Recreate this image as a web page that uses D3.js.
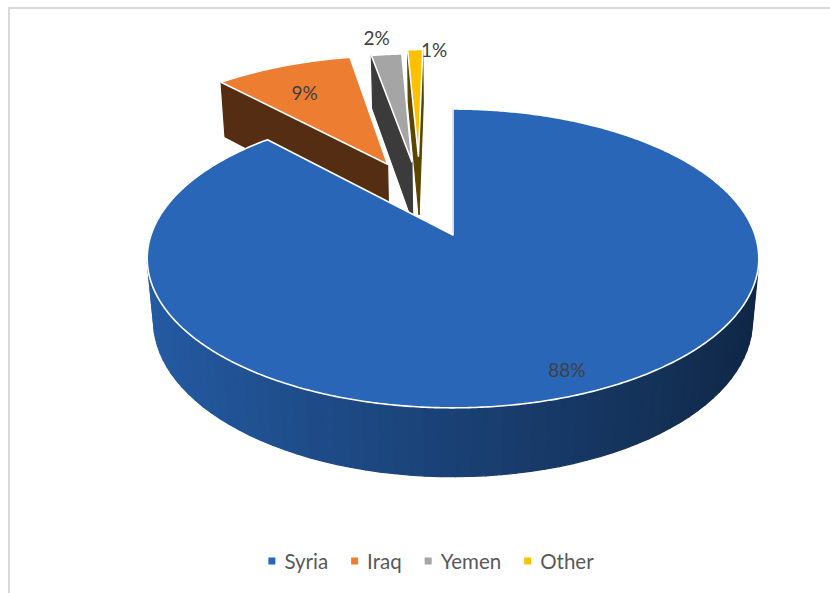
<!DOCTYPE html>
<html>
<head>
<meta charset="utf-8">
<script src="https://cdn.jsdelivr.net/npm/d3@7"></script>
<style>
  html, body { margin: 0; padding: 0; background: #fff; }
  svg { display: block; }
</style>
</head>
<body>
<svg id="chart" width="830" height="593"></svg>
<script>
// ---- data ----
const categories = ["Syria", "Iraq", "Yemen", "Other"];
const shares = [88, 9, 2, 1];
const shareLabels = ["88%", "9%", "2%", "1%"];

// ---- styling / layout ----
const palette = ["#2966b8", "#ed7d31", "#a5a5a5", "#ffc000"];
const explodeBy = [95, 79, 77, 90];            // pull-out distance of each slice (world units)
const labelReach = [0.87, 0.73, 1.18, 1.0];    // label distance from the slice tip, in radii
const labelShift = [[3, -1], [-4, 2], [-6, 0], [19, 0]];

const W = 830, H = 593;
const svg = d3.select("#chart");

// chart frame
svg.append("rect")
  .attr("x", 9).attr("y", 8)
  .attr("width", W).attr("height", H)
  .attr("fill", "#fff")
  .attr("stroke", "#d9d9d9")
  .attr("stroke-width", 2);

// ---- 3-D pie geometry ----
const R = 302;                 // pie radius
const thick = 72;              // pie height
const tilt = 28.85 * Math.PI / 180;
const sT = Math.sin(tilt), cT = Math.cos(tilt);
const focal = 1686;            // perspective distance
const originX = 453, originY = 235;

const color = d3.scaleOrdinal().domain(categories).range(palette);
const arcs = d3.pie().sort(null).value(d => d)(shares);

const slices = arcs.map((a, i) => {
  const mid = (a.startAngle + a.endAngle) / 2;
  return {
    i, name: categories[i],
    a0: a.startAngle, a1: a.endAngle, mid,
    ox: explodeBy[i] * Math.sin(mid),
    od: explodeBy[i] * Math.cos(mid)
  };
});

// the camera is aimed at the tip of the largest slice
const aim = [slices[0].ox, slices[0].od];
function toCam(p) {
  const rx = p[0] - aim[0], rd = p[1] - aim[1];
  return { u: rx, v: rd * sT + p[2] * cT, w: rd * cT - p[2] * sT };
}
function project(p) {
  const c = toCam(p);
  const k = focal / (focal + c.w);
  return [originX + c.u * k, originY - c.v * k];
}
const depthOf = p => toCam(p).w;
const eye = [aim[0], aim[1] - focal * cT, focal * sT];
const facing = (p, n) =>
  (eye[0] - p[0]) * n[0] + (eye[1] - p[1]) * n[1] + (eye[2] - p[2]) * n[2];

function shade(base, f) {
  const c = d3.rgb(base);
  return d3.rgb(c.r * f, c.g * f, c.b * f).formatHex();
}
const centroid = pts => [
  d3.mean(pts, p => p[0]), d3.mean(pts, p => p[1]), d3.mean(pts, p => p[2])
];

const line = d3.line();
const deg = Math.PI / 180;

function sliceFaces(s) {
  const base = color(s.name);
  const rim = (a, z) => [s.ox + R * Math.sin(a), s.od + R * Math.cos(a), z];
  const tip = z => [s.ox, s.od, z];
  const walls = [];

  // curved outer wall, built from narrow flat-shaded facets
  const nOuter = Math.max(1, Math.ceil((s.a1 - s.a0) / (2.5 * deg)));
  for (let j = 0; j < nOuter; j++) {
    const ta = s.a0 + (s.a1 - s.a0) * j / nOuter;
    const tb = s.a0 + (s.a1 - s.a0) * (j + 1) / nOuter;
    const m = (ta + tb) / 2;
    const n = [Math.sin(m), Math.cos(m), 0];
    if (facing(rim(m, -thick / 2), n) > 0) {
      const pts = [rim(ta, 0), rim(tb, 0), rim(tb, -thick), rim(ta, -thick)];
      walls.push({ pts, fill: shade(base, 0.635 - 0.265 * Math.sin(m)) });
    }
  }
  // the two cut faces
  const cuts = [
    { a: s.a0, n: [-Math.cos(s.a0), Math.sin(s.a0), 0] },
    { a: s.a1, n: [Math.cos(s.a1), -Math.sin(s.a1), 0] }
  ];
  cuts.forEach(c => {
    const pts = [tip(0), rim(c.a, 0), rim(c.a, -thick), tip(-thick)];
    if (facing(centroid(pts), c.n) > -1e-9) {
      walls.push({ pts, fill: shade(base, 0.36) });
    }
  });
  walls.sort((a, b) => depthOf(centroid(b.pts)) - depthOf(centroid(a.pts)));

  // top face
  const top = [tip(0)];
  const nTop = Math.max(2, Math.ceil((s.a1 - s.a0) / (0.5 * deg)));
  for (let j = 0; j <= nTop; j++) top.push(rim(s.a0 + (s.a1 - s.a0) * j / nTop, 0));

  return { walls, top, fill: base };
}

// paint slices from the back to the front
const order = slices.slice().sort((a, b) => {
  const da = depthOf([a.ox + 0.5 * R * Math.sin(a.mid), a.od + 0.5 * R * Math.cos(a.mid), 0]);
  const db = depthOf([b.ox + 0.5 * R * Math.sin(b.mid), b.od + 0.5 * R * Math.cos(b.mid), 0]);
  return db - da;
});

const pie = svg.append("g").attr("class", "pie");
order.forEach(s => {
  const f = sliceFaces(s);
  const g = pie.append("g").attr("class", "slice slice-" + s.name);
  g.selectAll("path.wall")
    .data(f.walls)
    .join("path")
    .attr("class", "wall")
    .attr("d", d => line(d.pts.map(project)) + "Z")
    .attr("fill", d => d.fill)
    .attr("stroke", d => d.fill)
    .attr("stroke-width", 1.2)
    .attr("stroke-linejoin", "round");
  g.append("path")
    .attr("class", "top")
    .attr("d", line(f.top.map(project)) + "Z")
    .attr("fill", f.fill)
    .attr("stroke", "#ffffff")
    .attr("stroke-width", 1.6)
    .attr("stroke-linejoin", "round");
});

// data labels
const labelPos = s => {
  const p = project([s.ox + labelReach[s.i] * R * Math.sin(s.mid),
                     s.od + labelReach[s.i] * R * Math.cos(s.mid), 0]);
  return [p[0] + labelShift[s.i][0], p[1] + labelShift[s.i][1]];
};
svg.append("g").attr("class", "labels")
  .selectAll("text")
  .data(slices)
  .join("text")
  .attr("x", s => labelPos(s)[0])
  .attr("y", s => labelPos(s)[1])
  .attr("text-anchor", "middle")
  .attr("dominant-baseline", "central")
  .attr("font-family", "Lato, 'Noto Sans', sans-serif")
  .attr("font-size", 19)
  .attr("fill", "#404040")
  .text(s => shareLabels[s.i]);

// legend
const legend = svg.append("g").attr("class", "legend");
const legendY = 561, legendCenter = 431, swatch = 7, swatchGap = 9, itemGap = 23;
const items = legend.selectAll("g.item")
  .data(categories)
  .join("g")
  .attr("class", "item");
items.append("rect")
  .attr("width", swatch).attr("height", swatch)
  .attr("y", legendY - swatch / 2)
  .attr("fill", d => color(d));
items.append("text")
  .attr("x", swatch + swatchGap)
  .attr("y", legendY)
  .attr("dominant-baseline", "central")
  .attr("font-family", "Lato, 'Noto Sans', sans-serif")
  .attr("font-size", 20.5)
  .attr("fill", "#595959")
  .text(d => d);
const widths = [];
items.each(function () {
  widths.push(swatch + swatchGap + d3.select(this).select("text").node().getComputedTextLength());
});
const total = d3.sum(widths) + itemGap * (widths.length - 1);
let cursor = legendCenter - total / 2;
items.attr("transform", (d, i) => {
  const x = cursor;
  cursor += widths[i] + itemGap;
  return `translate(${x},0)`;
});
</script>
</body>
</html>
